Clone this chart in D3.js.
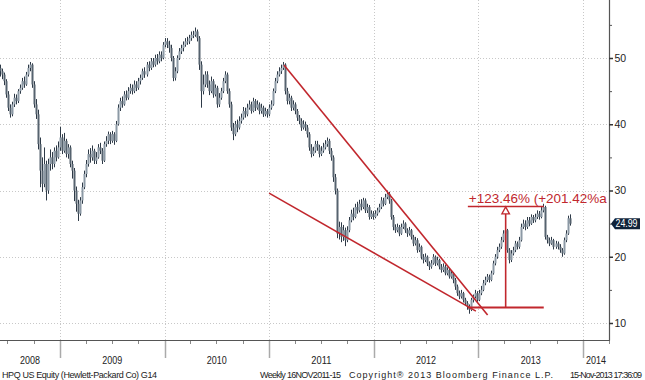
<!DOCTYPE html>
<html><head><meta charset="utf-8">
<script src="https://cdn.jsdelivr.net/npm/d3@7"></script>
<style>body{margin:0;background:#fff}svg{display:block}</style>
</head><body><svg id="c" width="645" height="380"></svg>
<script>
// ---- data (weekly HPQ) ----
const firstWeek = "2008-06-06";
const firstOpen = 48.5;
const closes = [
48,47.5,46.5,44.5,42.5,41.5,43,44,43.5,45,
45.5,46.5,46,47.5,48.5,49,46,43,41.5,37,
33,31,34,30,34,35,34,36,35,36.5,
38,36,37.5,35.5,36.5,34,33,30,28,26.5,
28.5,30.5,32.5,34,35.5,35,36,34.5,35,36.5,
36,34.5,37,37.5,38.5,37.5,38.5,37.5,40,42.5,
43.5,43,44.5,44,45,45.5,45,46,45.5,46.5,
47,48,47.5,49,48.5,49.5,49,50,49.5,50.5,
50,52,52.5,52,51.5,50,47,48,50,51,
51.5,52,52.5,52.5,53,53.5,53.5,54,53,49,
45,46,47.5,46,45,46.5,44.5,45.5,43,44,
45,46.5,47.5,45,43,39.5,38.5,40,39.5,40.5,
41,42,41.5,42.5,43,42,43.5,42.5,43,42,
42.5,41.5,42,41.5,42.5,43,45,46.5,47.5,48,
48.5,49,45,43.5,44,42.5,43,42,41,40.5,
39.5,40,39.5,38.5,36.5,35.5,36,37,36.5,35.5,
36,36.5,37,37.5,36,35,32,30,23.5,24.5,
23,24,22.5,24,25.5,26.5,26,27.5,27,28,
27.5,28.5,27,27.5,26,26.5,26,26.5,27,27.5,
28.5,28,29,29.5,28.5,26,24.5,24,24.5,23.5,
24.5,25,24,23.5,24,23,22,22.5,21,21.5,
20,19.5,20,19,18.5,19,20,19,19.5,18.5,
18,18.5,17.5,18,17,17.5,16.5,15.5,14.5,14,
14.5,13.5,13,12.5,12,13.5,14,14.5,13.5,14.5,
15,16,16.5,17,16.5,17.5,19,20,21,21.5,
22.5,23.5,24,21,19.5,20.5,21,22,21.5,22.5,
24.5,25,24.5,25.5,25,26,25.5,26,26.5,26,
27,27.5,23,22.5,22,22.5,21.5,22,21.5,21,
20.5,22.5,23.5,25.8,24.99];
const highs = [
49,48.4,47.8,46.8,45,43,43.4,44.6,44.5,45.3,
46,47,47.2,47.9,49,49.4,49.2,46.5,43.8,42.2,
38,35,36.5,34.5,34.8,36.2,35.8,36.5,36.8,37.4,
39.6,38.5,38.7,37.8,37,36.8,34.5,33.4,30.6,28.6,
29,31.2,33,34.6,36.2,36.4,36.8,36.3,35.8,37,
37.2,36.4,37.4,38.2,38.9,38.8,39,38.8,40.5,43,
44,44.2,45,45.1,45.6,46.1,46,46.6,46.5,47,
47.5,48.4,48.6,49.4,49.5,50,50,50.5,50.6,51,
51,52.4,53,53,52.6,52,50.3,48.6,50.4,51.5,
52,52.5,53,53.2,53.5,54,54.1,54.6,54.3,53.3,
49.5,47.5,48,48,46.6,47.2,46.8,46,45.8,44.7,
45.5,47,48,47.8,45.4,43.4,40.2,40.5,40.7,41.2,
41.6,42.6,42.5,43.1,43.6,43.4,44,43.8,43.6,43.3,
43.1,42.8,42.5,42.3,43,43.6,45.4,47,48,48.6,
49,49.4,49.2,45.5,44.6,44.3,43.6,43.3,42.3,41.4,
40.9,40.6,40.4,39.9,38.8,37,36.6,37.5,37.5,36.9,
36.7,37.2,37.6,38,37.8,36.4,35.3,32.5,30.3,25.3,
25.2,24.8,24.4,24.6,26,27.1,27.4,28,28.3,28.6,
28.7,28.9,28.8,28,27.8,27,26.9,27,27.4,28,
29,28.9,29.5,30,29.8,28.7,26.3,24.9,25,24.8,
25,25.5,25.2,24.3,24.5,24.2,23.3,23,22.8,22,
21.7,20.4,20.5,20.2,19.3,19.5,20.4,20.2,20,19.7,
18.9,19,18.8,18.4,18.2,18,17.7,16.8,15.8,14.9,
15,14.7,13.8,13.3,12.8,13.8,14.3,15,14.8,15,
15.6,16.5,17,17.4,17.3,17.9,19.4,20.4,21.5,22,
23,24,24.4,24.2,21.3,21,21.5,22.4,22.3,23,
25,25.6,25.5,26,26,26.4,26.3,26.5,27,26.9,
27.5,28,27.7,23.3,22.9,23,22.7,22.4,22.3,21.9,
21.3,22.9,24,26.2,26.4];
const lows = [
47.2,46.8,45.9,44,42,41,41.2,42.6,43,43.2,
44.6,45.2,45.5,45.8,47.2,48,45.5,42.5,40.8,36.2,
30.5,29.8,30.5,28.5,29.5,33,33.2,33.5,34.4,34.8,
36,35.5,35.7,35,34.8,33.5,31.8,28.4,26.8,25.4,
26.2,28,30.2,32,33.6,34.2,34.5,34,34,34.8,
35.5,34,34.3,36.6,37,37,37.2,36.9,37.3,39.8,
42,42.5,42.8,43.6,43.7,44.6,44.5,44.7,45,45.2,
46,46.7,47,47.2,48,48.2,48.6,48.7,49,49.2,
49.5,49.8,51.6,51.5,50.8,49.5,46.5,46.6,47.7,49.7,
50.6,51,51.7,52,52.1,52.6,53,53.2,52.5,48.2,
42.5,44.5,45.6,45.5,44.4,44.7,44,44.2,42.5,42.6,
43.7,44.7,46.2,44.6,42.5,39,37.6,38.2,38.8,39.2,
40.1,40.7,41,41.2,42.2,41.6,41.8,42,42.2,41.5,
41.6,41.1,41.2,41,41.2,42.2,42.8,44.7,46.2,47.2,
47.6,48.2,44.5,43,43,42,42.1,41.5,40.5,40,
39,39.2,39,38,36,35,35.2,35.7,36,35,
35.2,35.7,36.2,36.6,35.5,34.5,31.3,29.4,22.8,22.6,
22.2,22.4,21.6,22.2,23.7,25.2,25.5,25.8,26.5,26.7,
27,27.2,26.6,26.6,25.6,25.7,25.6,25.8,26.2,26.7,
27.2,27.6,27.8,28.7,28,25.6,24,23.6,23.7,23.1,
23.3,24.2,23.6,23,23.2,22.6,21.6,21.7,20.6,20.7,
19.6,19,19.2,18.6,18,18.2,18.8,18.6,18.7,18.1,
17.6,17.7,17.2,17.2,16.7,16.7,16,15,14.1,13.6,
13.7,13.1,12.6,12,11.4,11.8,13.1,13.7,13.2,13.3,
14.2,14.8,15.7,16.2,16.1,16.3,17.3,18.7,19.7,20.7,
21.2,22.2,23.2,20.6,19,19.2,20.2,20.7,21.1,21.2,
22.3,24.2,24,24.2,24.6,24.8,25.1,25.2,25.7,25.6,
25.8,26.7,22.6,22,21.6,21.8,21.1,21.2,21.1,20.6,
20,20.3,22.2,23.3,24.7];
const yTicks = [10,20,30,40,50];
const yMinorTicks = [15,25,35,45,55];
const yearLabels = ["2008","2009","2010","2011","2012","2013","2014"];
const lastPrice = 24.99;
const trendUpper = [["2011-02-22",48.94],["2013-02-02",11.2]];
const trendLower = [["2011-01-01",29.6],["2012-12-23",11.8]];
const moveBase = 12.35, moveTop = 27.6;
const moveSpan = ["2012-11-25","2013-08-17"];
const moveArrowDate = "2013-04-06";
const moveLabel = "+123.46% (+201.42%a";
const footerTexts = [
  ["HPQ US Equity (Hewlett-Packard Co) G14", 2, 155],
  ["Weekly 16NOV2011-15", 260, 81],
  ["Copyright\u00ae 2013 Bloomberg Finance L.P.", 349, 204],
  ["15-Nov-2013 17:36:09", 570, 72]
];

// ---- layout ----
const W = 609, H = 340;
const RED = "#c1272d", DARK = "#2e3a47", GREY = "#8c99a5";
const FONT = "'Liberation Sans', Arial, sans-serif";
const parse = d3.utcParse("%Y-%m-%d");
const svg = d3.select("#c");
svg.append("rect").attr("width",645).attr("height",380).attr("fill","#fff");

const x = d3.scaleUtc().domain([new Date(Date.UTC(2008,5,5,12)), new Date(Date.UTC(2014,3,1,19))]).range([0, W]);
const y = d3.scaleLinear().domain([10,50]).range([323,58]);

const f0 = parse(firstWeek);
const bars = closes.map((c,i) => ({
  d: d3.utcDay.offset(f0, 7*i),
  o: i===0 ? firstOpen : closes[i-1],
  c, h: highs[i], l: lows[i]
}));

svg.append("defs").append("clipPath").attr("id","plot")
  .append("rect").attr("x",0).attr("y",0).attr("width",W).attr("height",H);

// gridlines
const grid = svg.append("g").attr("stroke","#c8c8c8").attr("stroke-dasharray","1,2").attr("stroke-width",1);
grid.selectAll("line.h").data(yTicks).join("line")
  .attr("x1",0).attr("x2",W).attr("y1",d=>Math.round(y(d))+0.5).attr("y2",d=>Math.round(y(d))+0.5);
const yearStarts = d3.utcYear.range(x.domain()[0], x.domain()[1]);
grid.selectAll("line.v").data(yearStarts).join("line")
  .attr("y1",0).attr("y2",H).attr("x1",d=>Math.round(x(d))+0.5).attr("x2",d=>Math.round(x(d))+0.5);

// bars
const plot = svg.append("g").attr("clip-path","url(#plot)");
const bg = plot.append("g");
bars.forEach(b => {
  const cx = Math.round(x(b.d));
  bg.append("line").attr("x1",cx+0.5).attr("x2",cx+0.5)
    .attr("y1",y(b.h)).attr("y2",y(b.l)).attr("stroke",DARK).attr("stroke-width",1);
  const top = y(Math.max(b.o,b.c)), bot = y(Math.min(b.o,b.c));
  bg.append("rect").attr("x",cx-0.5).attr("width",2)
    .attr("y",top).attr("height",Math.max(1,bot-top))
    .attr("fill", b.c >= b.o ? GREY : "#56636f");
});

// annotations
const ann = plot.append("g").attr("stroke",RED).attr("fill","none");
[trendUpper, trendLower].forEach(t => {
  ann.append("line").attr("x1",x(parse(t[0][0]))).attr("y1",y(t[0][1]))
    .attr("x2",x(parse(t[1][0]))).attr("y2",y(t[1][1])).attr("stroke-width",1.6);
});
const sx0 = x(parse(moveSpan[0])), sx1 = x(parse(moveSpan[1]));
ann.append("line").attr("x1",sx0).attr("x2",sx1).attr("y1",y(moveBase)).attr("y2",y(moveBase)).attr("stroke-width",2);
ann.append("line").attr("x1",sx0).attr("x2",sx1).attr("y1",y(moveTop)).attr("y2",y(moveTop)).attr("stroke-width",1.5);
const ax = x(parse(moveArrowDate));
ann.append("line").attr("x1",ax).attr("x2",ax).attr("y1",y(moveBase)).attr("y2",y(moveTop)+7).attr("stroke-width",1.6);
ann.append("path").attr("d",`M${ax},${y(moveTop)+0.5} L${ax+3.8},${y(moveTop)+7.5} L${ax-3.8},${y(moveTop)+7.5}Z`)
  .attr("fill","#fff").attr("stroke-width",1.3);
plot.append("text").attr("x",sx0+1).attr("y",y(moveTop)-3)
  .attr("fill",RED).attr("font-family",FONT).attr("font-size",13.5)
  .attr("textLength",138).attr("lengthAdjust","spacingAndGlyphs")
  .text(moveLabel);

// right axis
const yAxis = svg.append("g").attr("transform",`translate(${W},0)`);
yAxis.append("line").attr("x1",0.5).attr("x2",0.5).attr("y1",0).attr("y2",H+0.5).attr("stroke","#555").attr("stroke-width",1.2);
yAxis.call(d3.axisRight(y).tickValues(yTicks).tickSize(4).tickPadding(1.5).tickFormat(d3.format("d")))
  .call(g=>g.select(".domain").remove())
  .call(g=>g.selectAll(".tick line").attr("stroke","#333").attr("stroke-width",1.5))
  .call(g=>g.selectAll(".tick text").attr("fill","#222").attr("font-size",10.5).attr("font-family",FONT));
const yMinor = svg.append("g").attr("transform",`translate(${W},0)`);
yMinor.call(d3.axisRight(y).tickValues(yMinorTicks).tickSize(3).tickFormat(""))
  .call(g=>g.select(".domain").remove())
  .call(g=>g.selectAll(".tick line").attr("stroke","#555"));

// last price tag
const ly = y(lastPrice);
svg.append("path").attr("d",`M${W+2},${ly} L${W+6},${ly-5.5} L${W+31},${ly-5.5} L${W+31},${ly+5.5} L${W+6},${ly+5.5}Z`).attr("fill","#10233a");
svg.append("text").attr("x",W+6.5).attr("y",ly+3.7).attr("fill","#fff")
  .attr("font-family",FONT).attr("font-size",10)
  .attr("textLength",22).attr("lengthAdjust","spacingAndGlyphs").text(lastPrice.toFixed(2));

// bottom axis
const xa = svg.append("g");
xa.append("line").attr("x1",0).attr("x2",W+1).attr("y1",H+0.5).attr("y2",H+0.5).attr("stroke","#555").attr("stroke-width",1.2);
xa.selectAll("line.q").data(d3.utcMonth.every(3).range(x.domain()[0], x.domain()[1])).join("line")
  .attr("x1",d=>Math.round(x(d))+0.5).attr("x2",d=>Math.round(x(d))+0.5).attr("y1",H+1).attr("y2",H+4)
  .attr("stroke","#888");
xa.selectAll("line.y").data(yearStarts).join("line")
  .attr("x1",d=>Math.round(x(d))+0.5).attr("x2",d=>Math.round(x(d))+0.5).attr("y1",H+1).attr("y2",H+18)
  .attr("stroke","#aaa").attr("stroke-width",1.5);
const yearBounds = [x.domain()[0], ...yearStarts, x.domain()[1]];
xa.selectAll("text.yr").data(yearLabels).join("text")
  .attr("x",(d,i)=>(x(yearBounds[i])+x(yearBounds[i+1]))/2).attr("y",364)
  .attr("text-anchor","middle").attr("fill","#222")
  .attr("font-family",FONT).attr("font-size",10)
  .attr("textLength",20).attr("lengthAdjust","spacingAndGlyphs").text(d=>d);

// footer
svg.selectAll("text.ft").data(footerTexts).join("text")
  .attr("x",d=>d[1]).attr("y",378).attr("fill","#222")
  .attr("font-family",FONT).attr("font-size",9)
  .attr("textLength",d=>d[2]).attr("lengthAdjust","spacing").text(d=>d[0]);
</script></body></html>
